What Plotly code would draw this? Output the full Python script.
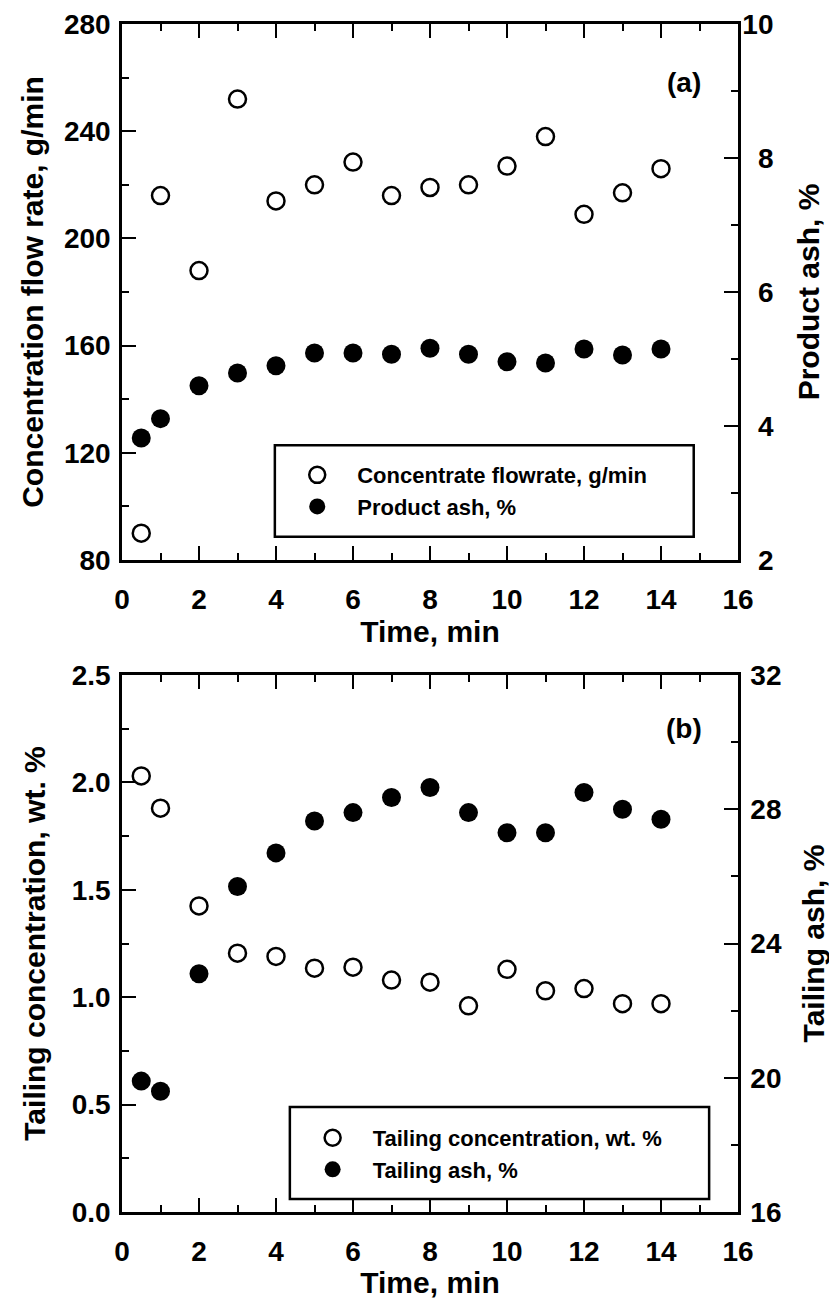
import plotly.graph_objects as go

# ---------------- data ----------------
time_min = [0.5, 1, 2, 3, 4, 5, 6, 7, 8, 9, 10, 11, 12, 13, 14]
conc_flowrate = [90, 216, 188, 252, 214, 220, 228.5, 216, 219, 220, 227, 238, 209, 217, 226]
product_ash = [3.82, 4.11, 4.60, 4.79, 4.90, 5.09, 5.09, 5.07, 5.16, 5.07, 4.96, 4.94, 5.15, 5.06, 5.15]
tailing_conc = [2.03, 1.88, 1.425, 1.205, 1.19, 1.135, 1.14, 1.08, 1.07, 0.96, 1.13, 1.03, 1.04, 0.97, 0.97]
tailing_ash = [19.9, 19.6, 23.1, 25.7, 26.7, 27.65, 27.9, 28.35, 28.65, 27.9, 27.3, 27.3, 28.5, 28.0, 27.7]

x_ticks = [0, 2, 4, 6, 8, 10, 12, 14, 16]
flow_ticks = [80, 120, 160, 200, 240, 280]
pash_ticks = [2, 4, 6, 8, 10]
pash_ticktext = ["\u20072", "\u20074", "\u20076", "\u20078", "10"]
tconc_ticks = [0.0, 0.5, 1.0, 1.5, 2.0, 2.5]
tconc_ticktext = ["0.0", "0.5", "1.0", "1.5", "2.0", "2.5"]
tash_ticks = [16, 20, 24, 28, 32]

FONT = "Liberation Sans, Arial, Helvetica, sans-serif"
TICKF = dict(family=FONT, size=28, color="black", weight="bold")
TITLEF = dict(family=FONT, size=30, color="black", weight="bold")
LEGF = dict(family=FONT, size=22, color="black", weight="bold")

open_marker = dict(symbol="circle", size=17, color="white", line=dict(color="black", width=2.5))
fill_marker = dict(symbol="circle", size=19, color="black", line=dict(color="black", width=0))

fig = go.Figure()
fig.add_trace(go.Scatter(x=time_min, y=conc_flowrate, mode="markers", marker=open_marker,
                         name="Concentrate flowrate, g/min", xaxis="x", yaxis="y", legend="legend"))
fig.add_trace(go.Scatter(x=time_min, y=product_ash, mode="markers", marker=fill_marker,
                         name="Product ash, %", xaxis="x", yaxis="y2", legend="legend"))
fig.add_trace(go.Scatter(x=time_min, y=tailing_conc, mode="markers", marker=open_marker,
                         name="Tailing concentration, wt. %", xaxis="x2", yaxis="y3", legend="legend2"))
fig.add_trace(go.Scatter(x=time_min, y=tailing_ash, mode="markers", marker=fill_marker,
                         name="Tailing ash, %", xaxis="x2", yaxis="y4", legend="legend2"))

LW = 2.5
common = dict(showline=True, linecolor="black", linewidth=LW, ticks="inside", ticklen=14,
              tickwidth=2, tickcolor="black", tickfont=TICKF, showgrid=False, zeroline=False,
              automargin=False, ticklabeloverflow="allow")

# page is offset by the 8px body margin; figure is 829x1291
TOP_DOM = [0.5488, 1.0]
BOT_DOM = [0.0, 0.452]

def minor(d):
    return dict(ticks="inside", ticklen=7, dtick=d, tickwidth=2, tickcolor="black", showgrid=False)

xcommon = dict(common, range=[0, 16], tickvals=x_ticks, mirror="ticks", minor=minor(1),
               ticklabelstandoff=13)

fig.update_layout(
    xaxis=dict(xcommon, domain=[0, 1], anchor="y",
               title=dict(text="Time, min", font=TITLEF, standoff=0)),
    xaxis2=dict(xcommon, domain=[0, 1], anchor="y3",
                title=dict(text="Time, min", font=TITLEF, standoff=0)),
    yaxis=dict(common, domain=TOP_DOM, range=[80, 280], tickvals=flow_ticks, anchor="x",
               minor=minor(20), ticklabelstandoff=3,
               title=dict(text="Concentration flow rate, g/min", font=TITLEF, standoff=12)),
    yaxis2=dict(common, domain=TOP_DOM, range=[2, 10], tickvals=pash_ticks, ticktext=pash_ticktext,
                overlaying="y", side="right", anchor="x", minor=minor(1), ticklabelstandoff=-4,
                title=dict(text="Product ash, %", font=TITLEF, standoff=26)),
    yaxis3=dict(common, domain=BOT_DOM, range=[0, 2.5], tickvals=tconc_ticks, ticktext=tconc_ticktext,
                anchor="x2", minor=minor(0.25), ticklabelstandoff=3,
                title=dict(text="Tailing concentration, wt. %", font=TITLEF, standoff=18)),
    yaxis4=dict(common, domain=BOT_DOM, range=[16, 32], tickvals=tash_ticks,
                overlaying="y3", side="right", anchor="x2", minor=minor(2), ticklabelstandoff=4,
                title=dict(text="Tailing ash, %", font=TITLEF, standoff=23)),
    legend=dict(x=0.252, y=0.638, xanchor="left", yanchor="top", font=LEGF,
                bgcolor="rgba(0,0,0,0)", borderwidth=0, itemwidth=70, tracegroupgap=0),
    legend2=dict(x=0.277, y=0.080, xanchor="left", yanchor="top", font=LEGF,
                 bgcolor="rgba(0,0,0,0)", borderwidth=0, itemwidth=70, tracegroupgap=0),
    width=829, height=1291,
    margin=dict(l=114, r=99, t=16, b=87, autoexpand=False),
    paper_bgcolor="white", plot_bgcolor="white",
    showlegend=True,
)

# legend frames (in data coordinates of each panel)
fig.add_shape(type="rect", xref="x", yref="y", x0=3.97, x1=14.85, y0=88.7, y1=122.8,
              line=dict(color="black", width=LW), fillcolor="rgba(0,0,0,0)", layer="above")
fig.add_shape(type="rect", xref="x2", yref="y3", x0=4.36, x1=15.25, y0=0.061, y1=0.489,
              line=dict(color="black", width=LW), fillcolor="rgba(0,0,0,0)", layer="above")

fig.add_annotation(text="(a)", x=14.6, y=258, xref="x", yref="y", showarrow=False,
                   font=dict(family=FONT, size=28, color="black", weight="bold"))
fig.add_annotation(text="(b)", x=14.6, y=2.25, xref="x2", yref="y3", showarrow=False,
                   font=dict(family=FONT, size=28, color="black", weight="bold"))

fig.write_html("out.html")
